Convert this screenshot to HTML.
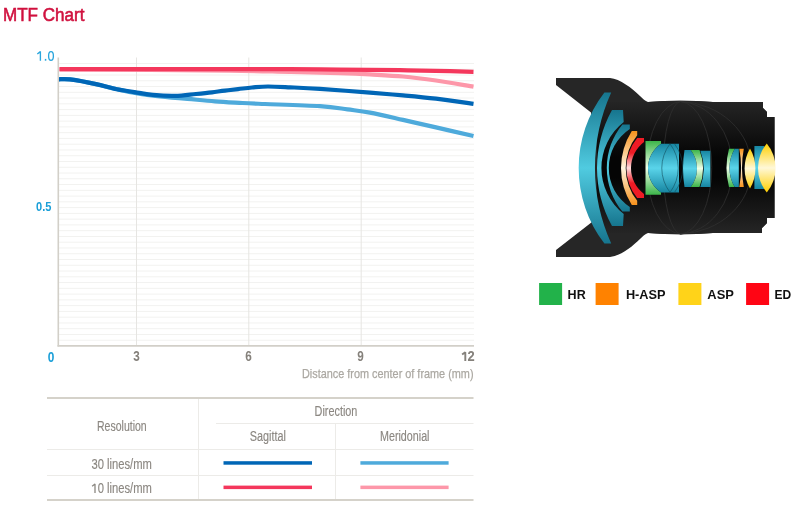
<!DOCTYPE html>
<html><head><meta charset="utf-8"><title>MTF Chart</title>
<style>
html,body{margin:0;padding:0;background:#fff;width:800px;height:517px;overflow:hidden}
svg{display:block;will-change:transform}
text{font-family:"Liberation Sans",sans-serif}
</style></head><body>
<svg width="800" height="517" viewBox="0 0 800 517">
<g stroke="#f2f2f0" stroke-width="1"><line x1="59" y1="340.23" x2="474" y2="340.23"/><line x1="59" y1="334.47" x2="474" y2="334.47"/><line x1="59" y1="328.70" x2="474" y2="328.70"/><line x1="59" y1="322.94" x2="474" y2="322.94"/><line x1="59" y1="317.17" x2="474" y2="317.17"/><line x1="59" y1="311.40" x2="474" y2="311.40"/><line x1="59" y1="305.64" x2="474" y2="305.64"/><line x1="59" y1="299.87" x2="474" y2="299.87"/><line x1="59" y1="294.11" x2="474" y2="294.11"/><line x1="59" y1="288.34" x2="474" y2="288.34"/><line x1="59" y1="282.57" x2="474" y2="282.57"/><line x1="59" y1="276.81" x2="474" y2="276.81"/><line x1="59" y1="271.04" x2="474" y2="271.04"/><line x1="59" y1="265.28" x2="474" y2="265.28"/><line x1="59" y1="259.51" x2="474" y2="259.51"/><line x1="59" y1="253.74" x2="474" y2="253.74"/><line x1="59" y1="247.98" x2="474" y2="247.98"/><line x1="59" y1="242.21" x2="474" y2="242.21"/><line x1="59" y1="236.45" x2="474" y2="236.45"/><line x1="59" y1="230.68" x2="474" y2="230.68"/><line x1="59" y1="224.91" x2="474" y2="224.91"/><line x1="59" y1="219.15" x2="474" y2="219.15"/><line x1="59" y1="213.38" x2="474" y2="213.38"/><line x1="59" y1="207.62" x2="474" y2="207.62"/><line x1="59" y1="201.85" x2="474" y2="201.85"/><line x1="59" y1="196.08" x2="474" y2="196.08"/><line x1="59" y1="190.32" x2="474" y2="190.32"/><line x1="59" y1="184.55" x2="474" y2="184.55"/><line x1="59" y1="178.79" x2="474" y2="178.79"/><line x1="59" y1="173.02" x2="474" y2="173.02"/><line x1="59" y1="167.25" x2="474" y2="167.25"/><line x1="59" y1="161.49" x2="474" y2="161.49"/><line x1="59" y1="155.72" x2="474" y2="155.72"/><line x1="59" y1="149.96" x2="474" y2="149.96"/><line x1="59" y1="144.19" x2="474" y2="144.19"/><line x1="59" y1="138.42" x2="474" y2="138.42"/><line x1="59" y1="132.66" x2="474" y2="132.66"/><line x1="59" y1="126.89" x2="474" y2="126.89"/><line x1="59" y1="121.13" x2="474" y2="121.13"/><line x1="59" y1="115.36" x2="474" y2="115.36"/><line x1="59" y1="109.59" x2="474" y2="109.59"/><line x1="59" y1="103.83" x2="474" y2="103.83"/><line x1="59" y1="98.06" x2="474" y2="98.06"/><line x1="59" y1="92.30" x2="474" y2="92.30"/><line x1="59" y1="86.53" x2="474" y2="86.53"/><line x1="59" y1="80.76" x2="474" y2="80.76"/><line x1="59" y1="75.00" x2="474" y2="75.00"/><line x1="59" y1="69.23" x2="474" y2="69.23"/><line x1="59" y1="63.47" x2="474" y2="63.47"/></g>
<g stroke="#e6e5e2" stroke-width="1"><line x1="136.5" y1="57.5" x2="136.5" y2="345"/><line x1="248.8" y1="57.5" x2="248.8" y2="345"/><line x1="361.2" y1="57.5" x2="361.2" y2="345"/></g>
<line x1="58.3" y1="57.4" x2="58.3" y2="346.6" stroke="#d2cfc8" stroke-width="1.6"/>
<line x1="57.5" y1="345.8" x2="474" y2="345.8" stroke="#d2cfc8" stroke-width="1.8"/>
<path d="M59.5,69.5 C74.6,69.5 121.6,69.6 150.0,69.8 C178.4,70.0 206.7,70.2 230.0,70.6 C253.3,70.9 271.7,71.5 290.0,71.9 C308.3,72.3 326.7,72.7 340.0,73.1 C353.3,73.5 359.5,73.8 370.0,74.4 C380.5,75.0 392.0,75.5 403.0,76.5 C414.0,77.5 424.2,78.8 436.0,80.5 C447.8,82.2 467.2,85.6 473.5,86.6" fill="none" stroke="#fd97a9" stroke-width="4.2" stroke-linecap="butt" stroke-linejoin="round"/>
<path d="M59.5,69.1 C82.9,69.1 161.6,69.2 200.0,69.2 C238.4,69.2 266.7,69.1 290.0,69.2 C313.3,69.3 321.7,69.4 340.0,69.6 C358.3,69.8 381.7,70.0 400.0,70.2 C418.3,70.5 437.8,70.8 450.0,71.1 C462.2,71.4 469.6,71.7 473.5,71.8" fill="none" stroke="#f4375c" stroke-width="4.2" stroke-linecap="butt" stroke-linejoin="round"/>
<path d="M59.0,79.3 C60.8,79.3 63.8,78.6 70.0,79.4 C76.2,80.2 88.2,82.4 96.0,84.1 C103.8,85.8 110.1,87.8 117.0,89.3 C123.9,90.8 130.3,92.2 137.5,93.4 C144.7,94.6 151.7,95.4 160.0,96.3 C168.3,97.2 178.3,98.1 187.5,98.9 C196.7,99.7 205.8,100.6 215.0,101.3 C224.2,102.0 234.2,102.5 242.5,103.0 C250.8,103.5 252.1,103.5 265.0,104.0 C277.9,104.5 306.2,105.3 320.0,106.2 C333.8,107.1 339.2,108.3 347.5,109.4 C355.8,110.5 360.8,110.8 370.0,112.6 C379.2,114.3 392.0,117.4 403.0,119.9 C414.0,122.4 424.2,124.7 436.0,127.4 C447.8,130.1 467.2,134.6 473.5,136.0" fill="none" stroke="#4eaadb" stroke-width="4.2" stroke-linecap="butt" stroke-linejoin="round"/>
<path d="M59.0,79.3 C60.8,79.3 63.8,78.6 70.0,79.4 C76.2,80.2 88.2,82.4 96.0,84.1 C103.8,85.8 110.2,87.9 117.0,89.3 C123.8,90.7 131.0,91.7 137.0,92.6 C143.0,93.5 146.7,94.4 153.0,94.9 C159.3,95.5 167.8,96.1 175.0,95.9 C182.2,95.8 189.8,94.6 196.0,94.0 C202.2,93.4 207.2,92.9 212.0,92.3 C216.8,91.7 220.7,91.1 225.0,90.6 C229.3,90.1 233.5,89.6 238.0,89.1 C242.5,88.6 247.0,87.9 252.0,87.5 C257.0,87.1 261.7,86.5 268.0,86.5 C274.3,86.5 281.3,86.9 290.0,87.3 C298.7,87.7 306.7,88.0 320.0,88.9 C333.3,89.8 356.2,91.5 370.0,92.6 C383.8,93.7 392.0,94.4 403.0,95.4 C414.0,96.4 424.2,97.3 436.0,98.7 C447.8,100.1 467.2,103.0 473.5,103.9" fill="none" stroke="#0066b6" stroke-width="4.2" stroke-linecap="butt" stroke-linejoin="round"/>
<text x="3.0" y="21.0" font-size="18.0" fill="#d0103e" text-anchor="start" font-weight="normal" textLength="81.5" lengthAdjust="spacingAndGlyphs" stroke="#d0103e" stroke-width="0.55">MTF Chart</text>
<g fill="none" stroke="#2aa6dd" stroke-width="1.35"><path d="M37.3,54 L40.4,51.6 L40.4,60.8" stroke-linejoin="bevel"/><ellipse cx="51" cy="55.9" rx="2.4" ry="4.3"/></g><rect x="44.8" y="58.9" width="1.5" height="1.8" fill="#2aa6dd"/>
<text x="36.0" y="211.3" font-size="13.6" fill="#1a9fd8" text-anchor="start" font-weight="bold" textLength="15.4" lengthAdjust="spacingAndGlyphs" >0.5</text>
<text x="47.8" y="361.5" font-size="13.8" fill="#1a9fd8" text-anchor="start" font-weight="bold" textLength="6.6" lengthAdjust="spacingAndGlyphs" >0</text>
<text x="136.5" y="361.2" font-size="13.8" fill="#85817b" text-anchor="middle" font-weight="bold" transform="translate(136.5 0) scale(0.85 1) translate(-136.5 0)">3</text>
<text x="248.5" y="361.2" font-size="13.8" fill="#85817b" text-anchor="middle" font-weight="bold" transform="translate(248.5 0) scale(0.85 1) translate(-248.5 0)">6</text>
<text x="360.5" y="361.2" font-size="13.8" fill="#85817b" text-anchor="middle" font-weight="bold" transform="translate(360.5 0) scale(0.85 1) translate(-360.5 0)">9</text>
<path d="M462.1,354.6 L465.3,352.2 L465.3,360.9" stroke-linejoin="bevel" fill="none" stroke="#85817b" stroke-width="1.9"/>
<text x="467.4" y="360.9" font-size="13.8" fill="#85817b" text-anchor="start" font-weight="bold" textLength="7.2" lengthAdjust="spacingAndGlyphs" >2</text>
<text x="302.0" y="378.2" font-size="13.0" fill="#aba8a2" text-anchor="start" font-weight="normal" textLength="171.5" lengthAdjust="spacingAndGlyphs" stroke="#aba8a2" stroke-width="0.25">Distance from center of frame (mm)</text>
<line x1="47" y1="398" x2="473.5" y2="398" stroke="#d5d2ca" stroke-width="2"/>
<line x1="47" y1="500" x2="473.5" y2="500" stroke="#d5d2ca" stroke-width="2"/>
<g stroke="#ecebe8" stroke-width="1"><line x1="198.5" y1="399" x2="198.5" y2="499"/><line x1="335.5" y1="424" x2="335.5" y2="499"/><line x1="216" y1="423.5" x2="473.5" y2="423.5"/><line x1="47" y1="449.5" x2="473.5" y2="449.5"/><line x1="47" y1="475.5" x2="473.5" y2="475.5"/></g>
<text x="97.0" y="430.6" font-size="14.0" fill="#8b8781" text-anchor="start" font-weight="normal" textLength="49.7" lengthAdjust="spacingAndGlyphs" stroke="#8b8781" stroke-width="0.15">Resolution</text>
<text x="314.6" y="415.5" font-size="14.0" fill="#8b8781" text-anchor="start" font-weight="normal" textLength="42.8" lengthAdjust="spacingAndGlyphs" stroke="#8b8781" stroke-width="0.15">Direction</text>
<text x="249.8" y="440.9" font-size="14.0" fill="#8b8781" text-anchor="start" font-weight="normal" textLength="36.1" lengthAdjust="spacingAndGlyphs" stroke="#8b8781" stroke-width="0.15">Sagittal</text>
<text x="380.0" y="440.9" font-size="14.0" fill="#8b8781" text-anchor="start" font-weight="normal" textLength="49.5" lengthAdjust="spacingAndGlyphs" stroke="#8b8781" stroke-width="0.15">Meridonial</text>
<text x="91.5" y="469.0" font-size="14.0" fill="#8b8781" text-anchor="start" font-weight="normal" textLength="60.4" lengthAdjust="spacingAndGlyphs" stroke="#8b8781" stroke-width="0.15">30 lines/mm</text>
<path d="M92.1,486.3 L95,484.1 L95,493.0" stroke-linejoin="bevel" fill="none" stroke="#8b8781" stroke-width="1.3"/>
<text x="97.7" y="493.0" font-size="14.0" fill="#8b8781" text-anchor="start" font-weight="normal" textLength="54.2" lengthAdjust="spacingAndGlyphs" stroke="#8b8781" stroke-width="0.15">0 lines/mm</text>
<rect x="223.5" y="461.2" width="88.5" height="3.5" fill="#0066b6"/>
<rect x="360.4" y="461.2" width="88.2" height="3.5" fill="#4eaadb"/>
<rect x="223.5" y="485.6" width="88.5" height="3.5" fill="#f4375c"/>
<rect x="360.4" y="485.6" width="88.2" height="3.5" fill="#fd97a9"/>
<rect x="539.1" y="283" width="23" height="22" fill="#22b24a"/>
<text x="567.6" y="299.2" font-size="12.0" fill="#111" text-anchor="start" font-weight="bold" textLength="18.1" lengthAdjust="spacingAndGlyphs" >HR</text>
<rect x="595.6" y="283" width="23" height="22" fill="#ff8200"/>
<text x="625.9" y="299.2" font-size="12.0" fill="#111" text-anchor="start" font-weight="bold" textLength="39.7" lengthAdjust="spacingAndGlyphs" >H-ASP</text>
<rect x="678.4" y="283" width="23" height="22" fill="#ffd319"/>
<text x="707.3" y="299.2" font-size="12.0" fill="#111" text-anchor="start" font-weight="bold" textLength="26.6" lengthAdjust="spacingAndGlyphs" >ASP</text>
<rect x="746.1" y="283" width="23" height="22" fill="#ff0514"/>
<text x="774.6" y="299.2" font-size="12.0" fill="#111" text-anchor="start" font-weight="bold" textLength="16.7" lengthAdjust="spacingAndGlyphs" >ED</text>
<defs>
<linearGradient id="gBarrel" x1="0" y1="102" x2="0" y2="233" gradientUnits="userSpaceOnUse">
<stop offset="0" stop-color="#252525"/><stop offset="0.42" stop-color="#050505"/><stop offset="0.58" stop-color="#050505"/><stop offset="1" stop-color="#252525"/></linearGradient>
<linearGradient id="gTeal" x1="0" y1="0" x2="0" y2="1">
<stop offset="0" stop-color="#16758e"/><stop offset="0.5" stop-color="#50cbe0"/><stop offset="1" stop-color="#16758e"/></linearGradient>
<linearGradient id="gCyan" x1="0" y1="0" x2="0" y2="1">
<stop offset="0" stop-color="#1786a2"/><stop offset="0.5" stop-color="#5ad4ea"/><stop offset="1" stop-color="#1786a2"/></linearGradient>
<linearGradient id="gOr" x1="0" y1="0" x2="0" y2="1">
<stop offset="0" stop-color="#f7921c"/><stop offset="0.5" stop-color="#fff4e0"/><stop offset="1" stop-color="#f7921c"/></linearGradient>
<linearGradient id="gRed" x1="0" y1="0" x2="0" y2="1">
<stop offset="0" stop-color="#ee1b25"/><stop offset="0.25" stop-color="#ee1b25"/><stop offset="0.5" stop-color="#ffe0e0"/><stop offset="0.75" stop-color="#ee1b25"/><stop offset="1" stop-color="#ee1b25"/></linearGradient>
<linearGradient id="gGr" x1="0" y1="0" x2="0" y2="1">
<stop offset="0" stop-color="#3cb54a"/><stop offset="0.5" stop-color="#f0ffe8"/><stop offset="1" stop-color="#3cb54a"/></linearGradient>
<linearGradient id="gYe" x1="0" y1="0" x2="0" y2="1">
<stop offset="0" stop-color="#ffcf00"/><stop offset="0.5" stop-color="#fff8d8"/><stop offset="1" stop-color="#ffcf00"/></linearGradient>
</defs>
<g>
<path d="M556,78 L610,78 C620,79 632,88 640,96 C643,99 645,101 648,102 Q680.5,99.5 713,102 L763,102 L763,108 L767,112 L767,117 L774.5,117 L774.5,218 L767,218 L767,223 L762,228 L762,233 L713,233 Q680.5,235.5 648,233 C645,234 643,236 640,239 C632,247 620,256 610,257 L556,257 L556,250 L592,222 L591,112.5 L556,85 Z" fill="#262626"/>
<path d="M597,102 L648,102 Q680.5,99.5 713,102 L763,102 L763,108 L767,112 L767,117 L774.5,117 L774.5,218 L767,218 L767,223 L762,228 L762,233 L713,233 Q680.5,235.5 648,233 L597,233 Z" fill="url(#gBarrel)"/>
<g fill="none" stroke="#303030" stroke-width="0.8">
<path d="M680.5,101.5 A35,66.3 0 0 0 680.5,234"/>
<path d="M680.5,101.5 A18,66.3 0 0 0 680.5,234"/>
<path d="M680.5,101.5 A32.5,66.3 0 0 1 680.5,234"/>
<path d="M680.5,101.5 A54,66.3 0 0 1 680.5,234"/>
<path d="M680.5,101.5 A74,66.3 0 0 1 680.5,234"/>
</g>
<!-- E1 -->
<path d="M604.4,92.5 A123.7,123.7 0 0 0 604.4,243.5 L611.2,243.5 A183.5,183.5 0 0 1 611.2,92.5 Z" fill="url(#gTeal)"/>
<!-- E2 -->
<path d="M612,110 L623,110 L623.7,122 A58.6,58.6 0 0 0 623.7,214 L623,226 L612,226 A119.6,119.6 0 0 1 612,110 Z" fill="url(#gTeal)"/>
<!-- E3 -->
<path d="M622.4,124.4 L629.8,124.4 L629.8,129 A46.7,46.7 0 0 0 629.8,207 L629.8,211.6 L622.4,211.6 A68.7,68.7 0 0 1 622.4,124.4 Z" fill="url(#gTeal)"/>
<!-- E4 orange -->
<path d="M631.8,130.9 L637.2,130.9 L637.2,135.2 A52.5,52.5 0 0 0 637.2,200.8 L637.2,205.1 L631.8,205.1 A69.1,69.1 0 0 1 631.8,130.9 Z" fill="url(#gOr)"/>
<!-- E5 red -->
<path d="M637.2,137.9 L644,137.9 L644,142 A32.5,32.5 0 0 0 644,194 L644,198.1 L637.2,198.1 A47.3,47.3 0 0 1 637.2,137.9 Z" fill="url(#gRed)"/>
<!-- E6 green -->
<path d="M645.5,141 L661,141 L661,143.8 A29.2,29.2 0 0 0 661,192.4 L661,194.8 L645.5,194.8 Z" fill="url(#gGr)"/>
<!-- E7-9 cyan -->
<path d="M661,143.8 L679,143.8 L679,192.4 L661,192.4 A29.2,29.2 0 0 1 661,143.8 Z" fill="url(#gCyan)"/>
<g fill="none" stroke="#124f5e" stroke-width="0.6">
<path d="M670,143.8 A40,40 0 0 0 670,192.4 A40,40 0 0 0 670,143.8"/>
<path d="M674.5,143.8 A40,40 0 0 1 674.5,192.4"/>
</g>
<!-- E10 -->
<path d="M684.5,150 L690.8,150 A30.5,30.5 0 0 1 690.8,186.9 L684.5,186.9 A114,114 0 0 1 684.5,150 Z" fill="url(#gCyan)"/>
<!-- E11 green -->
<path d="M690.8,150 L699.5,150 A50.4,50.4 0 0 1 699.5,186.9 L690.8,186.9 A30.5,30.5 0 0 0 690.8,150 Z" fill="url(#gGr)"/>
<!-- E12 -->
<path d="M700.3,150.8 L710.4,150.8 L710.4,186.9 L700.3,186.9 A50.4,50.4 0 0 0 700.3,150.8 Z" fill="url(#gCyan)"/>
<!-- E13 -->
<path d="M729,148.8 L734.7,148.8 A37.9,37.9 0 0 0 734.7,187.1 L729,187.1 A74.6,74.6 0 0 1 729,148.8 Z" fill="url(#gGr)"/>
<path d="M734.7,148.8 L738.8,148.8 L738.8,187.1 L734.7,187.1 A37.9,37.9 0 0 1 734.7,148.8 Z" fill="url(#gCyan)"/>
<!-- E14 orange -->
<path d="M739.3,148.8 L743.8,148.8 A102.7,102.7 0 0 0 743.8,187.1 L739.3,187.1 A102.7,102.7 0 0 0 739.3,148.8 Z" fill="url(#gOr)"/>
<!-- E16 cyan -->
<path d="M754.4,146 L764.3,146 L764.3,189 L754.4,189 Z" fill="url(#gCyan)"/>
<!-- E15 yellow -->
<path d="M750,148.5 A39.7,39.7 0 0 0 750,188.5 A39.7,39.7 0 0 0 750,148.5 Z" fill="url(#gYe)"/>
<!-- E17 yellow -->
<path d="M766.8,143.4 A38.5,38.5 0 0 0 766.8,192.4 A38.5,38.5 0 0 0 766.8,143.4 Z" fill="url(#gYe)"/>
</g>

</svg>
</body></html>
